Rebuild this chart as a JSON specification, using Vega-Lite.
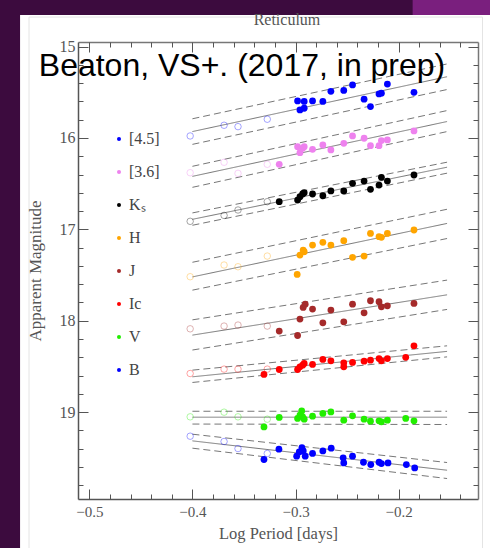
{
  "$schema": "https://vega.github.io/schema/vega-lite/v6.json",
  "width": 400,
  "height": 457,
  "autosize": {"type": "none"},
  "padding": {"left": 78, "top": 42, "right": 12, "bottom": 49},
  "background": "#3c0b3e",
  "config": {"view": {"stroke": null}},
  "datasets": {
    "filled": [
      {"band": "[4.5]", "logP": -0.298, "mag": 15.595},
      {"band": "[4.5]", "logP": -0.2957, "mag": 15.693},
      {"band": "[4.5]", "logP": -0.2916, "mag": 15.675},
      {"band": "[4.5]", "logP": -0.2916, "mag": 15.6},
      {"band": "[4.5]", "logP": -0.2835, "mag": 15.595},
      {"band": "[4.5]", "logP": -0.2735, "mag": 15.6},
      {"band": "[4.5]", "logP": -0.2657, "mag": 15.49},
      {"band": "[4.5]", "logP": -0.2532, "mag": 15.48},
      {"band": "[4.5]", "logP": -0.2447, "mag": 15.42},
      {"band": "[4.5]", "logP": -0.2335, "mag": 15.576},
      {"band": "[4.5]", "logP": -0.2273, "mag": 15.657},
      {"band": "[4.5]", "logP": -0.219, "mag": 15.518},
      {"band": "[4.5]", "logP": -0.2167, "mag": 15.51},
      {"band": "[4.5]", "logP": -0.2109, "mag": 15.41},
      {"band": "[4.5]", "logP": -0.1851, "mag": 15.5},
      {"band": "[3.6]", "logP": -0.3158, "mag": 16.288},
      {"band": "[3.6]", "logP": -0.298, "mag": 16.095},
      {"band": "[3.6]", "logP": -0.2957, "mag": 16.161},
      {"band": "[3.6]", "logP": -0.2931, "mag": 16.113},
      {"band": "[3.6]", "logP": -0.2916, "mag": 16.095},
      {"band": "[3.6]", "logP": -0.2835, "mag": 16.124},
      {"band": "[3.6]", "logP": -0.2735, "mag": 16.077},
      {"band": "[3.6]", "logP": -0.2657, "mag": 16.131},
      {"band": "[3.6]", "logP": -0.2532, "mag": 16.058},
      {"band": "[3.6]", "logP": -0.2447, "mag": 15.978},
      {"band": "[3.6]", "logP": -0.2335, "mag": 16.003},
      {"band": "[3.6]", "logP": -0.2273, "mag": 16.084},
      {"band": "[3.6]", "logP": -0.219, "mag": 16.084},
      {"band": "[3.6]", "logP": -0.2167, "mag": 16.029},
      {"band": "[3.6]", "logP": -0.2109, "mag": 16.022},
      {"band": "[3.6]", "logP": -0.1851, "mag": 15.923},
      {"band": "Kₛ", "logP": -0.3158, "mag": 16.697},
      {"band": "Kₛ", "logP": -0.298, "mag": 16.679},
      {"band": "Kₛ", "logP": -0.2957, "mag": 16.643},
      {"band": "Kₛ", "logP": -0.2931, "mag": 16.613},
      {"band": "Kₛ", "logP": -0.2916, "mag": 16.599},
      {"band": "Kₛ", "logP": -0.2835, "mag": 16.613},
      {"band": "Kₛ", "logP": -0.2735, "mag": 16.632},
      {"band": "Kₛ", "logP": -0.2657, "mag": 16.58},
      {"band": "Kₛ", "logP": -0.2532, "mag": 16.58},
      {"band": "Kₛ", "logP": -0.2447, "mag": 16.496},
      {"band": "Kₛ", "logP": -0.2335, "mag": 16.471},
      {"band": "Kₛ", "logP": -0.2273, "mag": 16.562},
      {"band": "Kₛ", "logP": -0.219, "mag": 16.515},
      {"band": "Kₛ", "logP": -0.2167, "mag": 16.431},
      {"band": "Kₛ", "logP": -0.2109, "mag": 16.471},
      {"band": "Kₛ", "logP": -0.1851, "mag": 16.405},
      {"band": "H", "logP": -0.2984, "mag": 17.493},
      {"band": "H", "logP": -0.2957, "mag": 17.281},
      {"band": "H", "logP": -0.2926, "mag": 17.226},
      {"band": "H", "logP": -0.2916, "mag": 17.245},
      {"band": "H", "logP": -0.2835, "mag": 17.172},
      {"band": "H", "logP": -0.2735, "mag": 17.142},
      {"band": "H", "logP": -0.2657, "mag": 17.172},
      {"band": "H", "logP": -0.2532, "mag": 17.124},
      {"band": "H", "logP": -0.2447, "mag": 17.306},
      {"band": "H", "logP": -0.2335, "mag": 17.292},
      {"band": "H", "logP": -0.2273, "mag": 17.044},
      {"band": "H", "logP": -0.219, "mag": 17.08},
      {"band": "H", "logP": -0.2167, "mag": 17.087},
      {"band": "H", "logP": -0.2109, "mag": 17.044},
      {"band": "H", "logP": -0.1851, "mag": 17.007},
      {"band": "J", "logP": -0.3158, "mag": 18.113},
      {"band": "J", "logP": -0.298, "mag": 18.161},
      {"band": "J", "logP": -0.2957, "mag": 17.982},
      {"band": "J", "logP": -0.2926, "mag": 17.854},
      {"band": "J", "logP": -0.2906, "mag": 17.818},
      {"band": "J", "logP": -0.2835, "mag": 17.872},
      {"band": "J", "logP": -0.2735, "mag": 18.022},
      {"band": "J", "logP": -0.2657, "mag": 17.883},
      {"band": "J", "logP": -0.2532, "mag": 18.011},
      {"band": "J", "logP": -0.2447, "mag": 17.818},
      {"band": "J", "logP": -0.2335, "mag": 17.913},
      {"band": "J", "logP": -0.2273, "mag": 17.781},
      {"band": "J", "logP": -0.219, "mag": 17.792},
      {"band": "J", "logP": -0.2167, "mag": 17.847},
      {"band": "J", "logP": -0.2109, "mag": 17.836},
      {"band": "J", "logP": -0.1851, "mag": 17.81},
      {"band": "Ic", "logP": -0.3306, "mag": 18.587},
      {"band": "Ic", "logP": -0.3158, "mag": 18.533},
      {"band": "Ic", "logP": -0.298, "mag": 18.533},
      {"band": "Ic", "logP": -0.2957, "mag": 18.504},
      {"band": "Ic", "logP": -0.2931, "mag": 18.486},
      {"band": "Ic", "logP": -0.2916, "mag": 18.467},
      {"band": "Ic", "logP": -0.2835, "mag": 18.478},
      {"band": "Ic", "logP": -0.2735, "mag": 18.423},
      {"band": "Ic", "logP": -0.2657, "mag": 18.438},
      {"band": "Ic", "logP": -0.2532, "mag": 18.46},
      {"band": "Ic", "logP": -0.2532, "mag": 18.504},
      {"band": "Ic", "logP": -0.2447, "mag": 18.456},
      {"band": "Ic", "logP": -0.2335, "mag": 18.442},
      {"band": "Ic", "logP": -0.2273, "mag": 18.431},
      {"band": "Ic", "logP": -0.219, "mag": 18.413},
      {"band": "Ic", "logP": -0.2167, "mag": 18.438},
      {"band": "Ic", "logP": -0.2109, "mag": 18.413},
      {"band": "Ic", "logP": -0.1931, "mag": 18.4},
      {"band": "Ic", "logP": -0.1851, "mag": 18.274},
      {"band": "V", "logP": -0.3306, "mag": 19.161},
      {"band": "V", "logP": -0.3158, "mag": 19.058},
      {"band": "V", "logP": -0.298, "mag": 19.069},
      {"band": "V", "logP": -0.2957, "mag": 19.033},
      {"band": "V", "logP": -0.294, "mag": 18.986},
      {"band": "V", "logP": -0.2931, "mag": 19.051},
      {"band": "V", "logP": -0.2916, "mag": 19.077},
      {"band": "V", "logP": -0.2835, "mag": 19.044},
      {"band": "V", "logP": -0.2735, "mag": 19.014},
      {"band": "V", "logP": -0.2657, "mag": 18.997},
      {"band": "V", "logP": -0.2532, "mag": 19.088},
      {"band": "V", "logP": -0.2447, "mag": 19.04},
      {"band": "V", "logP": -0.2335, "mag": 19.077},
      {"band": "V", "logP": -0.2273, "mag": 19.099},
      {"band": "V", "logP": -0.219, "mag": 19.095},
      {"band": "V", "logP": -0.2167, "mag": 19.106},
      {"band": "V", "logP": -0.2109, "mag": 19.088},
      {"band": "V", "logP": -0.1931, "mag": 19.069},
      {"band": "V", "logP": -0.1851, "mag": 19.095},
      {"band": "B", "logP": -0.3306, "mag": 19.518},
      {"band": "B", "logP": -0.3161, "mag": 19.405},
      {"band": "B", "logP": -0.2989, "mag": 19.482},
      {"band": "B", "logP": -0.2964, "mag": 19.435},
      {"band": "B", "logP": -0.2938, "mag": 19.387},
      {"band": "B", "logP": -0.2925, "mag": 19.424},
      {"band": "B", "logP": -0.2906, "mag": 19.482},
      {"band": "B", "logP": -0.2835, "mag": 19.452},
      {"band": "B", "logP": -0.2735, "mag": 19.424},
      {"band": "B", "logP": -0.2654, "mag": 19.394},
      {"band": "B", "logP": -0.2538, "mag": 19.5},
      {"band": "B", "logP": -0.2532, "mag": 19.555},
      {"band": "B", "logP": -0.2447, "mag": 19.482},
      {"band": "B", "logP": -0.2341, "mag": 19.548},
      {"band": "B", "logP": -0.227, "mag": 19.573},
      {"band": "B", "logP": -0.219, "mag": 19.548},
      {"band": "B", "logP": -0.2167, "mag": 19.562},
      {"band": "B", "logP": -0.2103, "mag": 19.555},
      {"band": "B", "logP": -0.1925, "mag": 19.573},
      {"band": "B", "logP": -0.1844, "mag": 19.61}
    ],
    "open": [
      {"band": "[4.5]", "logP": -0.4022, "mag": 15.978},
      {"band": "[4.5]", "logP": -0.3693, "mag": 15.861},
      {"band": "[4.5]", "logP": -0.3558, "mag": 15.876},
      {"band": "[4.5]", "logP": -0.3274, "mag": 15.795},
      {"band": "[3.6]", "logP": -0.4022, "mag": 16.38},
      {"band": "[3.6]", "logP": -0.3693, "mag": 16.266},
      {"band": "[3.6]", "logP": -0.3558, "mag": 16.387},
      {"band": "[3.6]", "logP": -0.3274, "mag": 16.288},
      {"band": "Kₛ", "logP": -0.4022, "mag": 16.912},
      {"band": "Kₛ", "logP": -0.3693, "mag": 16.847},
      {"band": "Kₛ", "logP": -0.3558, "mag": 16.788},
      {"band": "Kₛ", "logP": -0.3274, "mag": 16.697},
      {"band": "H", "logP": -0.4022, "mag": 17.518},
      {"band": "H", "logP": -0.3693, "mag": 17.39},
      {"band": "H", "logP": -0.3558, "mag": 17.409},
      {"band": "H", "logP": -0.3274, "mag": 17.292},
      {"band": "J", "logP": -0.4022, "mag": 18.088},
      {"band": "J", "logP": -0.3693, "mag": 18.058},
      {"band": "J", "logP": -0.3558, "mag": 18.047},
      {"band": "J", "logP": -0.3274, "mag": 18.058},
      {"band": "Ic", "logP": -0.4022, "mag": 18.577},
      {"band": "Ic", "logP": -0.3693, "mag": 18.529},
      {"band": "Ic", "logP": -0.3558, "mag": 18.529},
      {"band": "Ic", "logP": -0.3274, "mag": 18.529},
      {"band": "V", "logP": -0.4022, "mag": 19.051},
      {"band": "V", "logP": -0.3693, "mag": 19.0},
      {"band": "V", "logP": -0.3558, "mag": 19.051},
      {"band": "V", "logP": -0.3274, "mag": 19.077},
      {"band": "B", "logP": -0.4022, "mag": 19.263},
      {"band": "B", "logP": -0.3693, "mag": 19.321},
      {"band": "B", "logP": -0.3558, "mag": 19.398},
      {"band": "B", "logP": -0.3274, "mag": 19.452}
    ],
    "fits": [
      {"band": "[4.5]", "kind": "fit", "logP": -0.4, "mag": 15.93},
      {"band": "[4.5]", "kind": "fit", "logP": -0.153, "mag": 15.33},
      {"band": "[4.5]", "kind": "upper", "logP": -0.4, "mag": 15.79},
      {"band": "[4.5]", "kind": "upper", "logP": -0.153, "mag": 15.19},
      {"band": "[4.5]", "kind": "lower", "logP": -0.4, "mag": 16.07},
      {"band": "[4.5]", "kind": "lower", "logP": -0.153, "mag": 15.47},
      {"band": "[3.6]", "kind": "fit", "logP": -0.4, "mag": 16.42},
      {"band": "[3.6]", "kind": "fit", "logP": -0.153, "mag": 15.82},
      {"band": "[3.6]", "kind": "upper", "logP": -0.4, "mag": 16.31},
      {"band": "[3.6]", "kind": "upper", "logP": -0.153, "mag": 15.7},
      {"band": "[3.6]", "kind": "lower", "logP": -0.4, "mag": 16.54},
      {"band": "[3.6]", "kind": "lower", "logP": -0.153, "mag": 15.93},
      {"band": "Kₛ", "kind": "fit", "logP": -0.4, "mag": 16.89},
      {"band": "Kₛ", "kind": "fit", "logP": -0.153, "mag": 16.32},
      {"band": "Kₛ", "kind": "upper", "logP": -0.4, "mag": 16.82},
      {"band": "Kₛ", "kind": "upper", "logP": -0.153, "mag": 16.265},
      {"band": "Kₛ", "kind": "lower", "logP": -0.4, "mag": 16.955},
      {"band": "Kₛ", "kind": "lower", "logP": -0.153, "mag": 16.385},
      {"band": "H", "kind": "fit", "logP": -0.4, "mag": 17.52},
      {"band": "H", "kind": "fit", "logP": -0.153, "mag": 16.935},
      {"band": "H", "kind": "upper", "logP": -0.4, "mag": 17.36},
      {"band": "H", "kind": "upper", "logP": -0.153, "mag": 16.78},
      {"band": "H", "kind": "lower", "logP": -0.4, "mag": 17.665},
      {"band": "H", "kind": "lower", "logP": -0.153, "mag": 17.1},
      {"band": "J", "kind": "fit", "logP": -0.4, "mag": 18.157},
      {"band": "J", "kind": "fit", "logP": -0.153, "mag": 17.716},
      {"band": "J", "kind": "upper", "logP": -0.4, "mag": 17.99},
      {"band": "J", "kind": "upper", "logP": -0.153, "mag": 17.555},
      {"band": "J", "kind": "lower", "logP": -0.4, "mag": 18.32},
      {"band": "J", "kind": "lower", "logP": -0.153, "mag": 17.876},
      {"band": "Ic", "kind": "fit", "logP": -0.4, "mag": 18.613},
      {"band": "Ic", "kind": "fit", "logP": -0.153, "mag": 18.335},
      {"band": "Ic", "kind": "upper", "logP": -0.4, "mag": 18.54},
      {"band": "Ic", "kind": "upper", "logP": -0.153, "mag": 18.274},
      {"band": "Ic", "kind": "lower", "logP": -0.4, "mag": 18.675},
      {"band": "Ic", "kind": "lower", "logP": -0.153, "mag": 18.395},
      {"band": "V", "kind": "fit", "logP": -0.4, "mag": 19.055},
      {"band": "V", "kind": "fit", "logP": -0.153, "mag": 19.055},
      {"band": "V", "kind": "upper", "logP": -0.4, "mag": 18.99},
      {"band": "V", "kind": "upper", "logP": -0.153, "mag": 18.99},
      {"band": "V", "kind": "lower", "logP": -0.4, "mag": 19.13},
      {"band": "V", "kind": "lower", "logP": -0.153, "mag": 19.135},
      {"band": "B", "kind": "fit", "logP": -0.4, "mag": 19.314},
      {"band": "B", "kind": "fit", "logP": -0.153, "mag": 19.635},
      {"band": "B", "kind": "upper", "logP": -0.4, "mag": 19.241},
      {"band": "B", "kind": "upper", "logP": -0.153, "mag": 19.551},
      {"band": "B", "kind": "lower", "logP": -0.4, "mag": 19.394},
      {"band": "B", "kind": "lower", "logP": -0.153, "mag": 19.726}
    ]
  },
  "resolve": {"axis": {"x": "independent", "y": "independent"}},
  "layer": [
    {
      "data": {"values": [{}]},
      "mark": {"type": "rect", "fill": "#7a1f7e", "clip": false},
      "encoding": {
        "x": {"datum": -0.1864, "type": "quantitative", "scale": {"domain": [-0.511, -0.123], "nice": false, "zero": false}, "axis": null},
        "x2": {"datum": -0.1},
        "y": {"datum": 14.4, "type": "quantitative", "scale": {"domain": [14.95, 19.95], "reverse": true, "nice": false, "zero": false}, "axis": null},
        "y2": {"datum": 14.656}
      }
    },
    {
      "data": {"values": [{}]},
      "mark": {"type": "rect", "fill": "#ffffff", "clip": false},
      "encoding": {
        "x": {"datum": -0.5672, "type": "quantitative", "axis": null},
        "x2": {"datum": -0.1},
        "y": {"datum": 14.655, "type": "quantitative", "axis": null},
        "y2": {"datum": 20.6}
      }
    },
    {
      "data": {"values": [{}]},
      "mark": {"type": "rect", "fill": null, "stroke": "#e4e4e4", "strokeWidth": 1, "clip": false},
      "encoding": {
        "x": {"datum": -0.5585, "type": "quantitative", "axis": null},
        "x2": {"datum": -0.1186},
        "y": {"datum": 14.677, "type": "quantitative", "axis": null},
        "y2": {"datum": 20.6}
      }
    },
    {
      "data": {"name": "fits"},
      "mark": {"type": "line", "color": "#777777", "strokeWidth": 1},
      "encoding": {
        "x": {"field": "logP", "type": "quantitative",
          "axis": {"orient": "bottom", "values": [-0.5, -0.4, -0.3, -0.2], "format": ".1f", "tickSize": -10, "tickColor": "#555", "tickWidth": 1, "labelPadding": 15.5, "labelFont": "Liberation Serif", "labelFontSize": 15, "labelColor": "#555", "title": "Log Period [days]", "titleFont": "Liberation Serif", "titleFontSize": 16.5, "titleFontWeight": "normal", "titleColor": "#555", "titlePadding": 6, "domainColor": "#555", "domainWidth": 1.5, "grid": false, "zindex": 1}},
        "y": {"field": "mag", "type": "quantitative",
          "axis": {"orient": "left", "values": [15, 16, 17, 18, 19], "format": "d", "tickSize": -10, "tickColor": "#555", "tickWidth": 1, "labelPadding": 13, "labelFont": "Liberation Serif", "labelFontSize": 16, "labelColor": "#555", "title": "Apparent Magnitude", "titleFont": "Liberation Serif", "titleFontSize": 17, "titleFontWeight": "normal", "titleColor": "#555", "titlePadding": 15, "domainColor": "#555", "domainWidth": 1.5, "grid": false, "zindex": 1}},
        "detail": [{"field": "band"}, {"field": "kind"}],
        "strokeDash": {"field": "kind", "type": "nominal", "scale": {"domain": ["fit", "upper", "lower"], "range": [[1, 0], [7, 4], [7, 4]]}, "legend": null}
      }
    },
    {
      "data": {"name": "open"},
      "mark": {"type": "point", "shape": "circle", "filled": false, "size": 42, "strokeWidth": 1, "strokeOpacity": 0.5},
      "encoding": {
        "x": {"field": "logP", "type": "quantitative",
          "axis": {"orient": "bottom", "values": [-0.5, -0.48, -0.46, -0.44, -0.42, -0.4, -0.38, -0.36, -0.34, -0.32, -0.3, -0.28, -0.26, -0.24, -0.22, -0.2, -0.18, -0.16, -0.14], "tickSize": -5, "tickColor": "#555", "tickWidth": 1, "labels": false, "domain": false, "title": null, "grid": false, "zindex": 1}},
        "y": {"field": "mag", "type": "quantitative",
          "axis": {"orient": "left", "values": [15, 15.2, 15.4, 15.6, 15.8, 16, 16.2, 16.4, 16.6, 16.8, 17, 17.2, 17.4, 17.6, 17.8, 18, 18.2, 18.4, 18.6, 18.8, 19, 19.2, 19.4, 19.6, 19.8], "tickSize": -5, "tickColor": "#555", "tickWidth": 1, "labels": false, "domain": false, "title": null, "grid": false, "zindex": 1}},
        "color": {"field": "band", "type": "nominal", "scale": {"domain": ["[4.5]", "[3.6]", "Kₛ", "H", "J", "Ic", "V", "B"], "range": ["#0000ff", "#ee82ee", "#000000", "#ffa500", "#a52a2a", "#ff0000", "#22ee00", "#0000ff"]}, "legend": {"orient": "none", "legendX": 33, "legendY": 89, "title": null, "symbolType": "circle", "symbolSize": 16, "symbolStrokeWidth": 0, "symbolOpacity": 1, "labelFont": "Liberation Serif", "labelFontSize": 16, "labelColor": "#444", "rowPadding": 17, "labelOffset": 2, "padding": 0}}
      }
    },
    {
      "data": {"name": "filled"},
      "mark": {"type": "point", "shape": "circle", "filled": true, "size": 46, "opacity": 1},
      "encoding": {
        "x": {"field": "logP", "type": "quantitative",
          "axis": {"orient": "top", "values": [-0.5, -0.4, -0.3, -0.2], "tickSize": -10, "tickColor": "#555", "tickWidth": 1, "labels": false, "domainColor": "#777", "domainWidth": 1.5, "title": null, "grid": false, "zindex": 1}},
        "y": {"field": "mag", "type": "quantitative",
          "axis": {"orient": "right", "values": [15, 16, 17, 18, 19], "tickSize": -10, "tickColor": "#555", "tickWidth": 1, "labels": false, "domainColor": "#777", "domainWidth": 1.5, "title": null, "grid": false, "zindex": 1}},
        "color": {"field": "band", "type": "nominal"}
      }
    },
    {
      "data": {"values": [{}]},
      "mark": {"type": "text", "text": "Beaton, VS+. (2017, in prep)", "font": "Liberation Sans", "fontSize": 32, "color": "#000000", "align": "center", "baseline": "alphabetic", "clip": false},
      "encoding": {
        "x": {"datum": -0.3519, "type": "quantitative",
          "axis": {"orient": "top", "values": [-0.5, -0.48, -0.46, -0.44, -0.42, -0.4, -0.38, -0.36, -0.34, -0.32, -0.3, -0.28, -0.26, -0.24, -0.22, -0.2, -0.18, -0.16, -0.14], "tickSize": -5, "tickColor": "#555", "tickWidth": 1, "labels": false, "domain": false, "title": null, "grid": false, "zindex": 1}},
        "y": {"datum": 15.322, "type": "quantitative",
          "axis": {"orient": "right", "values": [15, 15.2, 15.4, 15.6, 15.8, 16, 16.2, 16.4, 16.6, 16.8, 17, 17.2, 17.4, 17.6, 17.8, 18, 18.2, 18.4, 18.6, 18.8, 19, 19.2, 19.4, 19.6, 19.8], "tickSize": -5, "tickColor": "#555", "tickWidth": 1, "labels": false, "domain": false, "title": null, "grid": false, "zindex": 1}}
      }
    },
    {
      "data": {"values": [{}]},
      "mark": {"type": "text", "text": "Reticulum", "font": "Liberation Serif", "fontSize": 16, "color": "#555555", "align": "center", "baseline": "middle", "clip": false},
      "encoding": {
        "x": {"datum": -0.3083, "type": "quantitative", "axis": null},
        "y": {"datum": 14.709, "type": "quantitative", "axis": null}
      }
    }
  ]
}
